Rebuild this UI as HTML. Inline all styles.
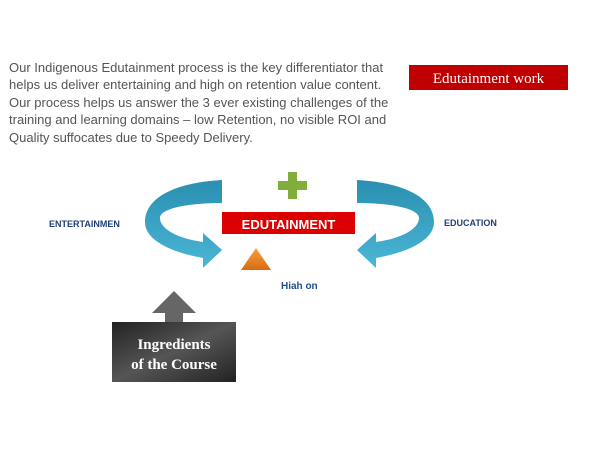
<!DOCTYPE html>
<html><head><meta charset="utf-8"><style>
body{margin:0;width:600px;height:450px;background:#fff;overflow:hidden;position:relative;font-family:"Liberation Sans",sans-serif}
.p{position:absolute;left:9px;top:59px;font-size:13px;line-height:17.4px;color:#555;white-space:nowrap}
</style></head><body>
<div class="p">Our Indigenous Edutainment process is the key differentiator that<br>helps us deliver entertaining and high on retention value content.<br>Our process helps us answer the 3 ever existing challenges of the<br>training and learning domains – low Retention, no visible ROI and<br>Quality suffocates due to Speedy Delivery.</div>
<svg width="600" height="450" style="position:absolute;left:0;top:0">
<defs>
<linearGradient id="bl" x1="0" y1="0" x2="0" y2="1"><stop offset="0" stop-color="#2a8fb0"/><stop offset="1" stop-color="#4bb6d6"/></linearGradient>
<linearGradient id="gr" x1="0" y1="0" x2="1" y2="1"><stop offset="0" stop-color="#222"/><stop offset="0.5" stop-color="#555"/><stop offset="1" stop-color="#222"/></linearGradient>
<linearGradient id="or" x1="0" y1="0" x2="0" y2="1"><stop offset="0" stop-color="#f5a040"/><stop offset="1" stop-color="#d96a10"/></linearGradient>
</defs>
<rect x="409" y="65" width="159" height="25" fill="#c00000"/>
<text x="488.5" y="83" text-anchor="middle" font-family="Liberation Serif,serif" font-size="15" fill="#fff">Edutainment work</text>
<path d="M222,180 C170,183 145,200 145,222 C145,240 170,252 203,258 L203,268 L222,250 L203,233 L203,242 C175,238 160,228 160,218 C160,208 190,203 222,203 Z" fill="url(#bl)"/>
<g transform="translate(579,0) scale(-1,1)"><path d="M222,180 C170,183 145,200 145,222 C145,240 170,252 203,258 L203,268 L222,250 L203,233 L203,242 C175,238 160,228 160,218 C160,208 190,203 222,203 Z" fill="url(#bl)"/></g>
<path d="M288,172h9v9h10v9h-10v9h-9v-9h-10v-9h10z" fill="#7fae3a"/>
<rect x="222" y="212" width="133" height="22" fill="#d00"/>
<text x="288.5" y="229" text-anchor="middle" font-size="13" font-weight="bold" fill="#fff">EDUTAINMENT</text>
<polygon points="256,248 271,270 241,270" fill="url(#or)"/>
<text x="281" y="289" font-size="10" font-weight="bold" fill="#1f4e8c">Hiah on</text>
<text x="49" y="227" font-size="9" font-weight="bold" fill="#1f3f7a">ENTERTAINMEN</text>
<text x="444" y="226" font-size="9" font-weight="bold" fill="#1f3f7a">EDUCATION</text>
<polygon points="174,291 196,313 183,313 183,322 165,322 165,313 152,313" fill="#666"/>
<rect x="112" y="322" width="124" height="60" fill="url(#gr)"/>
<text x="174" y="349" text-anchor="middle" font-family="Liberation Serif,serif" font-size="15" font-weight="bold" fill="#fff">Ingredients</text>
<text x="174" y="369" text-anchor="middle" font-family="Liberation Serif,serif" font-size="15" font-weight="bold" fill="#fff">of the Course</text>
</svg>
</body></html>
